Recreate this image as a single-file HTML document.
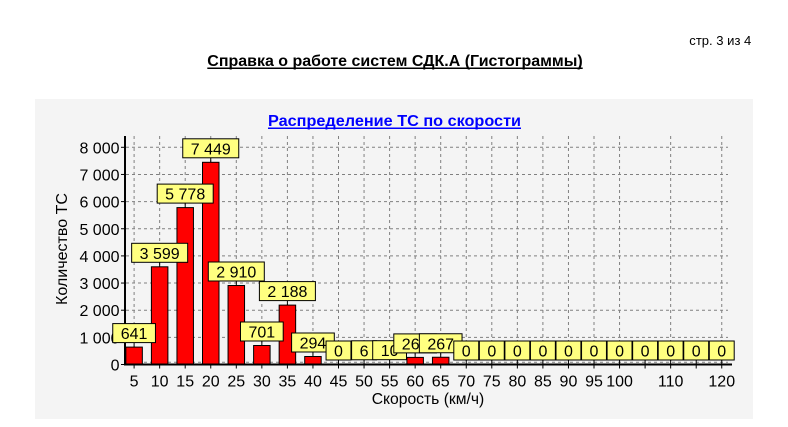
<!DOCTYPE html>
<html><head><meta charset="utf-8"><style>
html,body{margin:0;padding:0;background:#fff;}
svg{display:block;}
text{font-family:"Liberation Sans",Arial,sans-serif;fill:#000;}
</style></head><body>
<svg width="788" height="427" viewBox="0 0 788 427" xmlns="http://www.w3.org/2000/svg">
<rect x="0" y="0" width="788" height="427" fill="#fff"/>
<text x="689.3" y="45" font-size="12.5" textLength="62" lengthAdjust="spacingAndGlyphs">стр. 3 из 4</text>
<text x="207.3" y="66" font-size="16" font-weight="bold" textLength="375.4" lengthAdjust="spacingAndGlyphs">Справка о работе систем СДК.А (Гистограммы)</text>
<line x1="207.3" y1="68.2" x2="582.7" y2="68.2" stroke="#000" stroke-width="1.5"/>
<rect x="35" y="99" width="718" height="320" fill="#f4f4f4"/>
<text x="268" y="126" font-size="16" font-weight="bold" style="fill:#0000ff" textLength="253" lengthAdjust="spacingAndGlyphs">Распределение ТС по скорости</text>
<line x1="268" y1="128.3" x2="521" y2="128.3" stroke="#0000ff" stroke-width="1.5"/>
<g stroke="#808080" stroke-width="1" stroke-dasharray="3,3" fill="none">
<line x1="126" y1="147.3" x2="728" y2="147.3"/>
<line x1="126" y1="174.45" x2="728" y2="174.45"/>
<line x1="126" y1="201.6" x2="728" y2="201.6"/>
<line x1="126" y1="228.75" x2="728" y2="228.75"/>
<line x1="126" y1="255.9" x2="728" y2="255.9"/>
<line x1="126" y1="283.05" x2="728" y2="283.05"/>
<line x1="126" y1="310.2" x2="728" y2="310.2"/>
<line x1="126" y1="337.35" x2="728" y2="337.35"/>
<line x1="126" y1="362.3" x2="728" y2="362.3"/>
<line x1="134.1" y1="136" x2="134.1" y2="364"/>
<line x1="159.65" y1="136" x2="159.65" y2="364"/>
<line x1="185.2" y1="136" x2="185.2" y2="364"/>
<line x1="210.75" y1="136" x2="210.75" y2="364"/>
<line x1="236.3" y1="136" x2="236.3" y2="364"/>
<line x1="261.85" y1="136" x2="261.85" y2="364"/>
<line x1="287.4" y1="136" x2="287.4" y2="364"/>
<line x1="312.95" y1="136" x2="312.95" y2="364"/>
<line x1="338.5" y1="136" x2="338.5" y2="364"/>
<line x1="364.05" y1="136" x2="364.05" y2="364"/>
<line x1="389.6" y1="136" x2="389.6" y2="364"/>
<line x1="415.15" y1="136" x2="415.15" y2="364"/>
<line x1="440.7" y1="136" x2="440.7" y2="364"/>
<line x1="466.25" y1="136" x2="466.25" y2="364"/>
<line x1="491.8" y1="136" x2="491.8" y2="364"/>
<line x1="517.35" y1="136" x2="517.35" y2="364"/>
<line x1="542.9" y1="136" x2="542.9" y2="364"/>
<line x1="568.45" y1="136" x2="568.45" y2="364"/>
<line x1="594" y1="136" x2="594" y2="364"/>
<line x1="619.55" y1="136" x2="619.55" y2="364"/>
<line x1="670.65" y1="136" x2="670.65" y2="364"/>
<line x1="721.75" y1="136" x2="721.75" y2="364"/>
</g>
<g fill="#ff0000" stroke="#000" stroke-width="1">
<rect x="125.85" y="347.1" width="16.5" height="17.4"/>
<rect x="151.4" y="266.8" width="16.5" height="97.7"/>
<rect x="176.95" y="207.6" width="16.5" height="156.9"/>
<rect x="202.5" y="162.3" width="16.5" height="202.2"/>
<rect x="228.05" y="285.5" width="16.5" height="79"/>
<rect x="253.6" y="345.5" width="16.5" height="19"/>
<rect x="279.15" y="305.1" width="16.5" height="59.4"/>
<rect x="304.7" y="356.5" width="16.5" height="8"/>
<rect x="406.9" y="357.4" width="16.5" height="7.1"/>
<rect x="432.45" y="357.25" width="16.5" height="7.25"/>
</g>
<rect x="124" y="136" width="2" height="229.5" fill="#000"/>
<rect x="124" y="363.5" width="608" height="2" fill="#000"/>
<g stroke="#000" stroke-width="1">
<line x1="121" y1="147.3" x2="124" y2="147.3"/>
<line x1="121" y1="174.45" x2="124" y2="174.45"/>
<line x1="121" y1="201.6" x2="124" y2="201.6"/>
<line x1="121" y1="228.75" x2="124" y2="228.75"/>
<line x1="121" y1="255.9" x2="124" y2="255.9"/>
<line x1="121" y1="283.05" x2="124" y2="283.05"/>
<line x1="121" y1="310.2" x2="124" y2="310.2"/>
<line x1="121" y1="337.35" x2="124" y2="337.35"/>
<line x1="121" y1="364.5" x2="124" y2="364.5"/>
<line x1="134.1" y1="365.5" x2="134.1" y2="368.5"/>
<line x1="159.65" y1="365.5" x2="159.65" y2="368.5"/>
<line x1="185.2" y1="365.5" x2="185.2" y2="368.5"/>
<line x1="210.75" y1="365.5" x2="210.75" y2="368.5"/>
<line x1="236.3" y1="365.5" x2="236.3" y2="368.5"/>
<line x1="261.85" y1="365.5" x2="261.85" y2="368.5"/>
<line x1="287.4" y1="365.5" x2="287.4" y2="368.5"/>
<line x1="312.95" y1="365.5" x2="312.95" y2="368.5"/>
<line x1="338.5" y1="365.5" x2="338.5" y2="368.5"/>
<line x1="364.05" y1="365.5" x2="364.05" y2="368.5"/>
<line x1="389.6" y1="365.5" x2="389.6" y2="368.5"/>
<line x1="415.15" y1="365.5" x2="415.15" y2="368.5"/>
<line x1="440.7" y1="365.5" x2="440.7" y2="368.5"/>
<line x1="466.25" y1="365.5" x2="466.25" y2="368.5"/>
<line x1="491.8" y1="365.5" x2="491.8" y2="368.5"/>
<line x1="517.35" y1="365.5" x2="517.35" y2="368.5"/>
<line x1="542.9" y1="365.5" x2="542.9" y2="368.5"/>
<line x1="568.45" y1="365.5" x2="568.45" y2="368.5"/>
<line x1="594" y1="365.5" x2="594" y2="368.5"/>
<line x1="619.55" y1="365.5" x2="619.55" y2="368.5"/>
<line x1="645.1" y1="365.5" x2="645.1" y2="368.5"/>
<line x1="670.65" y1="365.5" x2="670.65" y2="368.5"/>
<line x1="696.2" y1="365.5" x2="696.2" y2="368.5"/>
<line x1="721.75" y1="365.5" x2="721.75" y2="368.5"/>
</g>
<g font-size="16" text-anchor="end">
<text x="119.5" y="153.3">8 000</text>
<text x="119.5" y="180.45">7 000</text>
<text x="119.5" y="207.6">6 000</text>
<text x="119.5" y="234.75">5 000</text>
<text x="119.5" y="261.9">4 000</text>
<text x="119.5" y="289.05">3 000</text>
<text x="119.5" y="316.2">2 000</text>
<text x="119.5" y="343.35">1 000</text>
<text x="119.5" y="370.5">0</text>
</g>
<g font-size="16" text-anchor="middle">
<text x="134.1" y="386.5">5</text>
<text x="159.65" y="386.5">10</text>
<text x="185.2" y="386.5">15</text>
<text x="210.75" y="386.5">20</text>
<text x="236.3" y="386.5">25</text>
<text x="261.85" y="386.5">30</text>
<text x="287.4" y="386.5">35</text>
<text x="312.95" y="386.5">40</text>
<text x="338.5" y="386.5">45</text>
<text x="364.05" y="386.5">50</text>
<text x="389.6" y="386.5">55</text>
<text x="415.15" y="386.5">60</text>
<text x="440.7" y="386.5">65</text>
<text x="466.25" y="386.5">70</text>
<text x="491.8" y="386.5">75</text>
<text x="517.35" y="386.5">80</text>
<text x="542.9" y="386.5">85</text>
<text x="568.45" y="386.5">90</text>
<text x="594" y="386.5">95</text>
<text x="619.55" y="386.5">100</text>
<text x="670.65" y="386.5">110</text>
<text x="721.75" y="386.5">120</text>
<text x="428" y="404" textLength="112.6" lengthAdjust="spacingAndGlyphs">Скорость (км/ч)</text>
<text transform="translate(67,249) rotate(-90)" x="0" y="0" textLength="112" lengthAdjust="spacingAndGlyphs">Количество ТС</text>
</g>
<g font-size="16" text-anchor="middle">
<line x1="134.1" y1="342.6" x2="134.1" y2="347.1" stroke="#000"/>
<rect x="112.75" y="323.6" width="42.7" height="19" fill="#ffff80" stroke="#000"/>
<text x="134.1" y="339.1">641</text>
<line x1="159.65" y1="262.3" x2="159.65" y2="266.8" stroke="#000"/>
<rect x="131.65" y="243.3" width="56" height="19" fill="#ffff80" stroke="#000"/>
<text x="159.65" y="258.8">3 599</text>
<line x1="185.2" y1="203.1" x2="185.2" y2="207.6" stroke="#000"/>
<rect x="157.2" y="184.1" width="56" height="19" fill="#ffff80" stroke="#000"/>
<text x="185.2" y="199.6">5 778</text>
<line x1="210.75" y1="157.8" x2="210.75" y2="162.3" stroke="#000"/>
<rect x="182.75" y="138.8" width="56" height="19" fill="#ffff80" stroke="#000"/>
<text x="210.75" y="154.3">7 449</text>
<line x1="236.3" y1="281" x2="236.3" y2="285.5" stroke="#000"/>
<rect x="208.3" y="262" width="56" height="19" fill="#ffff80" stroke="#000"/>
<text x="236.3" y="277.5">2 910</text>
<line x1="261.85" y1="341" x2="261.85" y2="345.5" stroke="#000"/>
<rect x="240.5" y="322" width="42.7" height="19" fill="#ffff80" stroke="#000"/>
<text x="261.85" y="337.5">701</text>
<line x1="287.4" y1="300.6" x2="287.4" y2="305.1" stroke="#000"/>
<rect x="259.4" y="281.6" width="56" height="19" fill="#ffff80" stroke="#000"/>
<text x="287.4" y="297.1">2 188</text>
<line x1="312.95" y1="352" x2="312.95" y2="356.5" stroke="#000"/>
<rect x="291.6" y="333" width="42.7" height="19" fill="#ffff80" stroke="#000"/>
<text x="312.95" y="348.5">294</text>
<line x1="338.5" y1="360" x2="338.5" y2="364" stroke="#000"/>
<rect x="326.05" y="341" width="24.9" height="19" fill="#ffff80" stroke="#000"/>
<text x="338.5" y="356.5">0</text>
<line x1="364.05" y1="360" x2="364.05" y2="364" stroke="#000"/>
<rect x="351.6" y="340.8" width="24.9" height="19" fill="#ffff80" stroke="#000"/>
<text x="364.05" y="356.3">6</text>
<line x1="389.6" y1="359.7" x2="389.6" y2="364" stroke="#000"/>
<rect x="372.7" y="340.7" width="33.8" height="19" fill="#ffff80" stroke="#000"/>
<text x="389.6" y="356.2">10</text>
<line x1="415.15" y1="352.9" x2="415.15" y2="357.4" stroke="#000"/>
<rect x="393.8" y="333.9" width="42.7" height="19" fill="#ffff80" stroke="#000"/>
<text x="415.15" y="349.4">262</text>
<line x1="440.7" y1="352.75" x2="440.7" y2="357.25" stroke="#000"/>
<rect x="419.35" y="333.75" width="42.7" height="19" fill="#ffff80" stroke="#000"/>
<text x="440.7" y="349.25">267</text>
<g stroke="#000">
<line x1="466.25" y1="360" x2="466.25" y2="364"/>
<line x1="491.8" y1="360" x2="491.8" y2="364"/>
<line x1="517.35" y1="360" x2="517.35" y2="364"/>
<line x1="542.9" y1="360" x2="542.9" y2="364"/>
<line x1="568.45" y1="360" x2="568.45" y2="364"/>
<line x1="594" y1="360" x2="594" y2="364"/>
<line x1="619.55" y1="360" x2="619.55" y2="364"/>
<line x1="645.1" y1="360" x2="645.1" y2="364"/>
<line x1="670.65" y1="360" x2="670.65" y2="364"/>
<line x1="696.2" y1="360" x2="696.2" y2="364"/>
<line x1="721.75" y1="360" x2="721.75" y2="364"/>
</g>
<rect x="453.8" y="341" width="24.9" height="19" fill="#ffff80" stroke="#000"/><text x="466.25" y="356.5">0</text>
<rect x="479.35" y="341" width="24.9" height="19" fill="#ffff80" stroke="#000"/><text x="491.8" y="356.5">0</text>
<rect x="504.9" y="341" width="24.9" height="19" fill="#ffff80" stroke="#000"/><text x="517.35" y="356.5">0</text>
<rect x="530.45" y="341" width="24.9" height="19" fill="#ffff80" stroke="#000"/><text x="542.9" y="356.5">0</text>
<rect x="556" y="341" width="24.9" height="19" fill="#ffff80" stroke="#000"/><text x="568.45" y="356.5">0</text>
<rect x="581.55" y="341" width="24.9" height="19" fill="#ffff80" stroke="#000"/><text x="594" y="356.5">0</text>
<rect x="607.1" y="341" width="24.9" height="19" fill="#ffff80" stroke="#000"/><text x="619.55" y="356.5">0</text>
<rect x="632.65" y="341" width="24.9" height="19" fill="#ffff80" stroke="#000"/><text x="645.1" y="356.5">0</text>
<rect x="658.2" y="341" width="24.9" height="19" fill="#ffff80" stroke="#000"/><text x="670.65" y="356.5">0</text>
<rect x="683.75" y="341" width="24.9" height="19" fill="#ffff80" stroke="#000"/><text x="696.2" y="356.5">0</text>
<rect x="709.3" y="341" width="24.9" height="19" fill="#ffff80" stroke="#000"/><text x="721.75" y="356.5">0</text>
</g>
</svg>
</body></html>
